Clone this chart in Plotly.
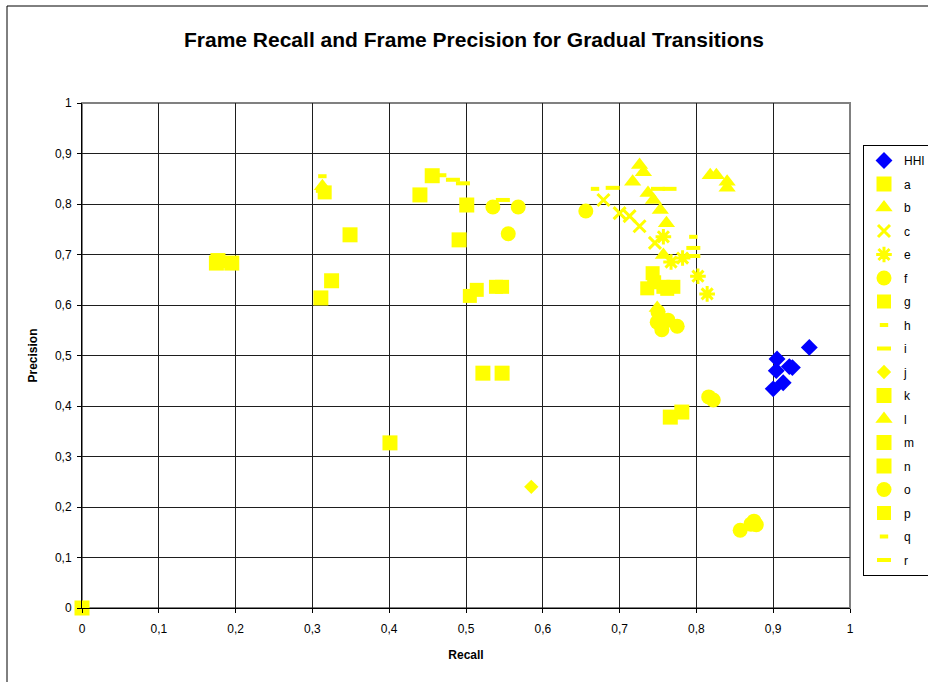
import plotly.graph_objects as go

# Recall / precision pairs per system
hhi_recall = [0.947, 0.905, 0.921, 0.925, 0.904, 0.913, 0.900]
hhi_prec = [0.516, 0.493, 0.478, 0.476, 0.470, 0.446, 0.434]

a_recall = [0.175, 0.177, 0.195, 0.311, 0.325, 0.349]
a_prec = [0.683, 0.688, 0.683, 0.614, 0.648, 0.739]

b_recall = [0.726, 0.731, 0.717, 0.737, 0.744, 0.753, 0.761, 0.757, 0.749]
b_prec = [0.877, 0.863, 0.844, 0.822, 0.808, 0.788, 0.762, 0.699, 0.594]

c_recall = [0.679, 0.700, 0.713, 0.726, 0.746]
c_prec = [0.808, 0.782, 0.776, 0.756, 0.723]

e_recall = [0.757, 0.767, 0.782, 0.802, 0.814]
e_prec = [0.735, 0.685, 0.693, 0.657, 0.622]

f_recall = [0.656, 0.535, 0.568, 0.555]
f_prec = [0.786, 0.794, 0.794, 0.741]

g_recall = [0.505, 0.514, 0.539, 0.547]
g_prec = [0.618, 0.630, 0.636, 0.636]

h_recall = [0.313, 0.469, 0.668]
h_prec = [0.855, 0.857, 0.830]

i_recall = [0.483, 0.496, 0.548, 0.691]
i_prec = [0.848, 0.841, 0.808, 0.832]

j_recall = [0.585]
j_prec = [0.240]

k_recall = [0.456, 0.440, 0.501, 0.491]
k_prec = [0.856, 0.818, 0.798, 0.729]

l_recall = [0.818, 0.826, 0.840, 0.840, 0.313]
l_prec = [0.857, 0.857, 0.844, 0.832, 0.835]

m_recall = [0.522, 0.547, 0.401]
m_prec = [0.465, 0.465, 0.327]

n_recall = [0.766, 0.781, 0.0]
n_prec = [0.378, 0.388, 0.0]

o_recall = [0.749, 0.763, 0.755, 0.775, 0.750, 0.816, 0.822, 0.857, 0.871, 0.875, 0.878]
o_prec = [0.566, 0.570, 0.551, 0.558, 0.586, 0.418, 0.412, 0.154, 0.166, 0.172, 0.165]

p_recall = [0.736, 0.743, 0.745, 0.757, 0.770, 0.762, 0.316]
p_prec = [0.633, 0.663, 0.645, 0.636, 0.636, 0.632, 0.823]

q_recall = [0.796, 0.310]
q_prec = [0.735, 0.826]

r_recall = [0.750, 0.765, 0.796, 0.796]
r_prec = [0.830, 0.830, 0.713, 0.697]

tick_vals = [0, 0.1, 0.2, 0.3, 0.4, 0.5, 0.6, 0.7, 0.8, 0.9, 1]

YELLOW = "#FFFF00"
BLUE = "#0000FF"
FONT = "Arial, Liberation Sans, sans-serif"

# name, x, y, symbol, size, colour, line-only symbol?
series = [
    ("HHI", hhi_recall, hhi_prec, "diamond", 13, BLUE, False),
    ("a", a_recall, a_prec, "square", 15, YELLOW, False),
    ("b", b_recall, b_prec, "triangle-up", 15, YELLOW, False),
    ("c", c_recall, c_prec, "x-thin", 12, YELLOW, True),
    ("e", e_recall, e_prec, "asterisk", 13, YELLOW, True),
    ("f", f_recall, f_prec, "circle", 15, YELLOW, False),
    ("g", g_recall, g_prec, "square", 14, YELLOW, False),
    ("h", h_recall, h_prec, "line-ew", 6, YELLOW, True),
    ("i", i_recall, i_prec, "line-ew", 10, YELLOW, True),
    ("j", j_recall, j_prec, "diamond", 11, YELLOW, False),
    ("k", k_recall, k_prec, "square", 15, YELLOW, False),
    ("l", l_recall, l_prec, "triangle-up", 15, YELLOW, False),
    ("m", m_recall, m_prec, "square", 15, YELLOW, False),
    ("n", n_recall, n_prec, "square", 15, YELLOW, False),
    ("o", o_recall, o_prec, "circle", 15, YELLOW, False),
    ("p", p_recall, p_prec, "square", 14, YELLOW, False),
    ("q", q_recall, q_prec, "line-ew", 6, YELLOW, True),
    ("r", r_recall, r_prec, "line-ew", 10, YELLOW, True),
]

fig = go.Figure()
for name, xs, ys, sym, size, col, line_only in series:
    if line_only:
        marker = dict(symbol=sym, size=size, color=col,
                      line=dict(color=col, width=4 if sym == "line-ew" else 3))
    else:
        marker = dict(symbol=sym, size=size, color=col, line=dict(width=0))
    fig.add_trace(go.Scatter(x=xs, y=ys, mode="markers", name=name, legendgroup=name,
                             marker=marker, cliponaxis=False))

W, H = 928, 682
L, R, T, B = 82, 78, 103, 74
pw, ph = W - L - R, H - T - B


def px_x(p):
    return (p - L) / pw


def px_y(p):
    return (H - B - p) / ph


axis_common = dict(
    range=[0, 1],
    tickvals=tick_vals,
    showgrid=True,
    gridcolor="#1e1e1e",
    gridwidth=1,
    zeroline=False,
    showline=True,
    linecolor="#000000",
    linewidth=1,
    ticks="outside",
    ticklen=4,
    tickcolor="#000000",
    tickfont=dict(family=FONT, size=12, color="#000000"),
    fixedrange=True,
)

fig.update_layout(
    width=W,
    height=H,
    margin=dict(l=L, r=R, t=T, b=B, autoexpand=False),
    paper_bgcolor="#FFFFFF",
    plot_bgcolor="#FFFFFF",
    separators=", ",
    font=dict(family=FONT, color="#000000"),
    title=dict(
        text="<b>Frame Recall and Frame Precision for Gradual Transitions</b>",
        font=dict(family=FONT, size=21, color="#000000"),
        x=px_x(474), xref="paper", xanchor="center",
        y=1 - 40 / H, yref="container", yanchor="middle",
    ),
    xaxis=dict(axis_common, ticklabelstandoff=6,
               title=dict(text="<b>Recall</b>", font=dict(family=FONT, size=12), standoff=15)),
    yaxis=dict(axis_common, ticklabelstandoff=3,
               title=dict(text="<b>Precision</b>", font=dict(family=FONT, size=12), standoff=14)),
    legend=dict(
        x=px_x(863), y=px_y(145), xanchor="left", yanchor="top",
        bordercolor="#000000", borderwidth=1, bgcolor="#FFFFFF",
        font=dict(family=FONT, size=12, color="#000000"),
        tracegroupgap=4.5,
        traceorder="grouped",
    ),
    shapes=[
        # plot-area frame (grey on top and right)
        dict(type="rect", xref="paper", yref="paper", x0=0, y0=0, x1=1, y1=1,
             line=dict(color="#808080", width=2), layer="below"),
        # outer chart border
        dict(type="rect", xref="paper", yref="paper",
             x0=px_x(7), y0=px_y(700), x1=px_x(940), y1=px_y(6),
             line=dict(color="#000000", width=1), layer="below"),
    ],
)

fig.write_html("out.html")
